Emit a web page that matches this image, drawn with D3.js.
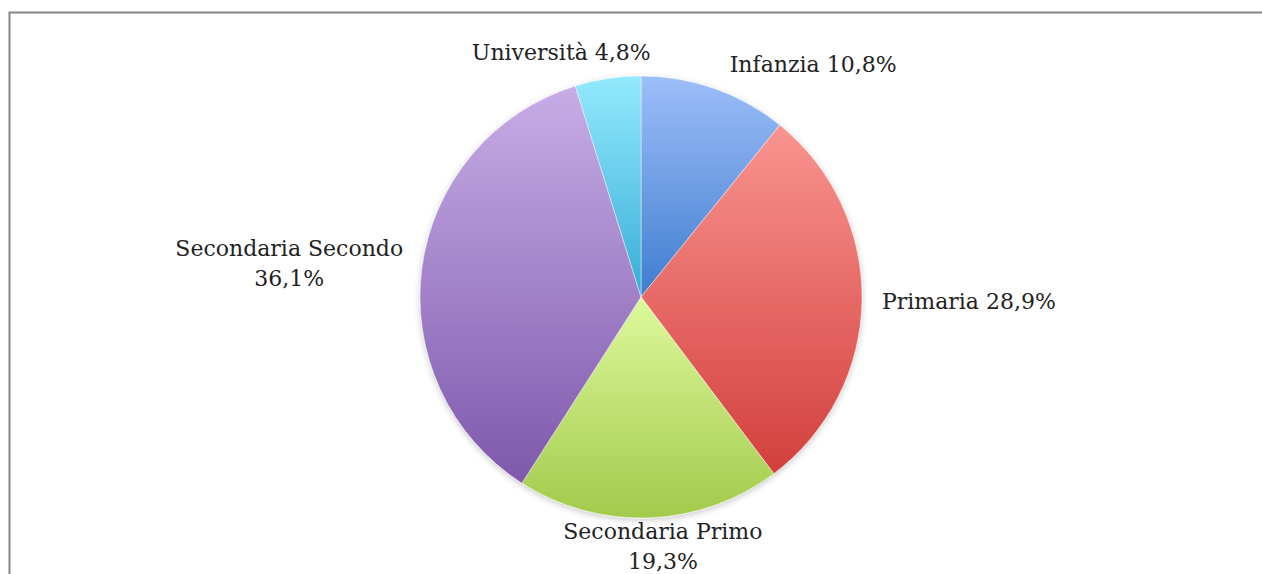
<!DOCTYPE html>
<html>
<head>
<meta charset="utf-8">
<script src="https://cdn.jsdelivr.net/npm/d3@7"></script>
<style>
  html, body { margin: 0; padding: 0; background: #ffffff; }
  svg { display: block; }
</style>
</head>
<body>
<svg id="chart" width="1262" height="574"></svg>
<script>
// ---- data ----
const categories = ["Infanzia", "Primaria", "Secondaria Primo", "Secondaria Secondo", "Università"];
const values = [10.8, 28.9, 19.3, 36.1, 4.8];
const colorsTop = ["#9dbef9", "#fa9490", "#ddf99c", "#c7ade7", "#93e9fd"];
const colorsBottom = ["#3f7dcf", "#d23f3c", "#a2ca4b", "#7e58ab", "#37add6"];

// ---- layout ----
const W = 1262, H = 574;
const cx = 641, cy = 297, R = 221;
const fontSize = 22, lineHeight = 30;
const gapX = 20, gapY = 2;
const labelNudge = { "Università": [-30, -9], "Infanzia": [64, -8], "Secondaria Primo": [9, -4] };

const svg = d3.select("#chart");
const defs = svg.append("defs");

// frame
svg.append("rect")
  .attr("x", 9.5).attr("y", 12.5)
  .attr("width", W + 20).attr("height", H + 20)
  .attr("fill", "none").attr("stroke", "#868686").attr("stroke-width", 2);

const fillTop = d3.scaleOrdinal().domain(categories).range(colorsTop);
const fillBottom = d3.scaleOrdinal().domain(categories).range(colorsBottom);

categories.forEach((c, i) => {
  const g = defs.append("linearGradient")
    .attr("id", "grad" + i)
    .attr("x1", 0).attr("y1", 0).attr("x2", 0).attr("y2", 1);
  g.append("stop").attr("offset", "0%").attr("stop-color", fillTop(c));
  g.append("stop").attr("offset", "100%").attr("stop-color", fillBottom(c));
});

const filter = defs.append("filter").attr("id", "shadow")
  .attr("x", "-10%").attr("y", "-10%").attr("width", "120%").attr("height", "120%");
filter.append("feDropShadow")
  .attr("dx", 0).attr("dy", 2).attr("stdDeviation", 3)
  .attr("flood-color", "#000").attr("flood-opacity", 0.22);

const data = categories.map((c, i) => ({ name: c, value: values[i], idx: i }));
const pie = d3.pie().value(d => d.value).sort(null).startAngle(0).endAngle(2 * Math.PI);
const arcs = pie(data);
const arc = d3.arc().innerRadius(0).outerRadius(R);

const gPie = svg.append("g")
  .attr("transform", `translate(${cx},${cy})`)
  .attr("filter", "url(#shadow)");

gPie.selectAll("path.slice")
  .data(arcs)
  .join("path")
  .attr("class", "slice")
  .attr("d", arc)
  .attr("fill", d => `url(#grad${d.data.idx})`)
  .attr("stroke", "rgba(255,255,255,0.55)")
  .attr("stroke-width", 0.8);

// labels
const fmt = v => d3.format(".1f")(v).replace(".", ",") + "%";
const gLab = svg.append("g");

arcs.forEach(a => {
  const name = a.data.name;
  const pct = fmt(a.data.value);
  const lines = name.includes(" ") ? [name, pct] : [name + " " + pct];
  const t = gLab.append("text")
    .attr("font-family", "'DejaVu Serif', serif")
    .attr("font-size", fontSize)
    .attr("fill", "#222")
    .attr("text-anchor", "middle");
  lines.forEach((ln, k) => {
    t.append("tspan").attr("x", 0).attr("dy", k === 0 ? 0 : lineHeight).text(ln);
  });
  let w = 0;
  t.selectAll("tspan").each(function () { w = Math.max(w, this.getComputedTextLength()); });
  const h = lines.length * lineHeight;
  const mid = (a.startAngle + a.endAngle) / 2;
  const ux = Math.sin(mid), uy = -Math.cos(mid);
  let bx = cx + ux * R + ux * (w / 2 + gapX);
  let by = cy + uy * R + uy * (h / 2 + gapY);
  const n = labelNudge[name] || [0, 0];
  bx += n[0]; by += n[1];
  // box centre -> first baseline
  const firstBaseline = by - (lines.length - 1) * lineHeight / 2 + 0.35 * fontSize;
  t.attr("transform", `translate(${bx},${firstBaseline})`);
});
</script>
</body>
</html>
